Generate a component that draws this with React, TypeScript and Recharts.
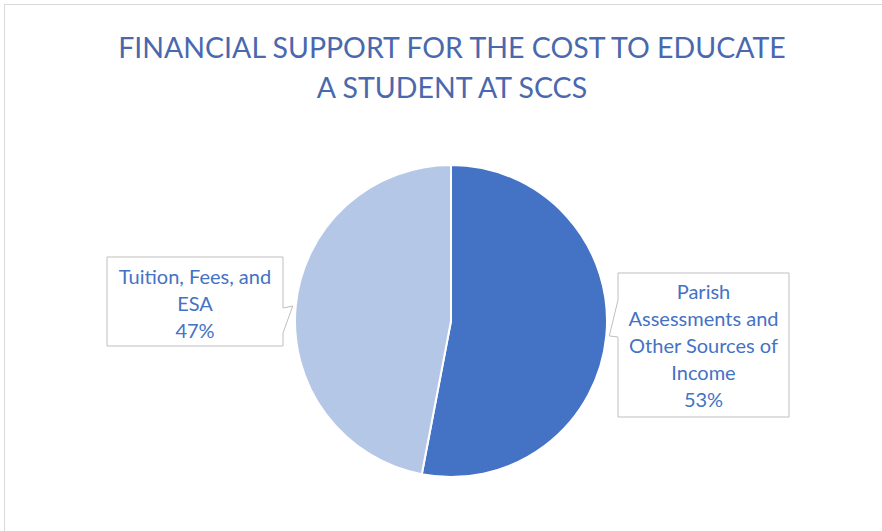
import { PieChart, Pie, Cell } from 'recharts';

// slice data, clockwise from 12 o'clock
const names = ['Parish Assessments and Other Sources of Income', 'Tuition, Fees, and ESA'];
const values = [53, 47];
const labelLines = [
  ['Parish', 'Assessments and', 'Other Sources of', 'Income', '53%'],
  ['Tuition, Fees, and', 'ESA', '47%'],
];
const titleLines = ['FINANCIAL SUPPORT FOR THE COST TO EDUCATE', 'A STUDENT AT SCCS'];

const colors = ['#4472C4', '#B4C7E7'];
const FONT = 'Lato, "Open Sans", sans-serif';

// callout boxes: side the pointer leaves from, box rect, base of the pointer on that edge
const boxes = [
  { side: 'left', x: 618, y: 273, w: 171, h: 144, baseTop: 300, baseBottom: 337, firstLine: 291 },
  { side: 'right', x: 107, y: 257, w: 176, h: 89, baseTop: 308, baseBottom: 333, firstLine: 276 },
];

const data = names.map((name, i) => ({ name, value: values[i] }));

const RADIAN = Math.PI / 180;

function Callout(props: any) {
  const { cx, cy, midAngle, outerRadius, index } = props;
  const b = boxes[index];
  const tipX = cx + (outerRadius + 3) * Math.cos(-midAngle * RADIAN);
  const tipY = cy + (outerRadius + 3) * Math.sin(-midAngle * RADIAN);
  const r = b.x + b.w;
  const bt = b.y + b.h;
  const d =
    b.side === 'left'
      ? `M${b.x},${b.y} H${r} V${bt} H${b.x} V${b.baseBottom} L${tipX},${tipY} L${b.x},${b.baseTop} Z`
      : `M${b.x},${b.y} H${r} V${b.baseTop} L${tipX},${tipY} L${r},${b.baseBottom} V${bt} H${b.x} Z`;
  const lines = labelLines[index];
  return (
    <g>
      <path d={d} fill="#ffffff" stroke="#bfbfbf" strokeWidth={1} />
      {lines.map((t, i) => (
        <text
          key={i}
          x={b.x + b.w / 2}
          y={b.firstLine + i * 27}
          textAnchor="middle"
          dominantBaseline="central"
          fill="#4472C4"
          fontFamily={FONT}
          fontSize={20}
        >
          {t}
        </text>
      ))}
    </g>
  );
}

export default function App() {
  return (
    <div style={{ position: 'fixed', left: 0, top: 0, width: 882, height: 531, background: '#fff' }}>
      <PieChart width={882} height={531} margin={{ top: 0, right: 0, bottom: 0, left: 0 }}>
        <rect x={4.5} y={4.5} width={1000} height={1000} fill="#fff" stroke="#d9d9d9" />
        {titleLines.map((t, i) => (
          <text
            key={i}
            x={452}
            y={47 + i * 40}
            textAnchor="middle"
            dominantBaseline="central"
            fill="#4A68AD"
            fontFamily={FONT}
            fontSize={28.5}
          >
            {t}
          </text>
        ))}
        <Pie
          data={data}
          dataKey="value"
          nameKey="name"
          cx={451}
          cy={321}
          outerRadius={156}
          startAngle={90}
          endAngle={-270}
          stroke="#ffffff"
          strokeWidth={2}
          labelLine={false}
          label={Callout}
          isAnimationActive={false}
        >
          {data.map((d, i) => (
            <Cell key={d.name} fill={colors[i]} />
          ))}
        </Pie>
      </PieChart>
    </div>
  );
}
